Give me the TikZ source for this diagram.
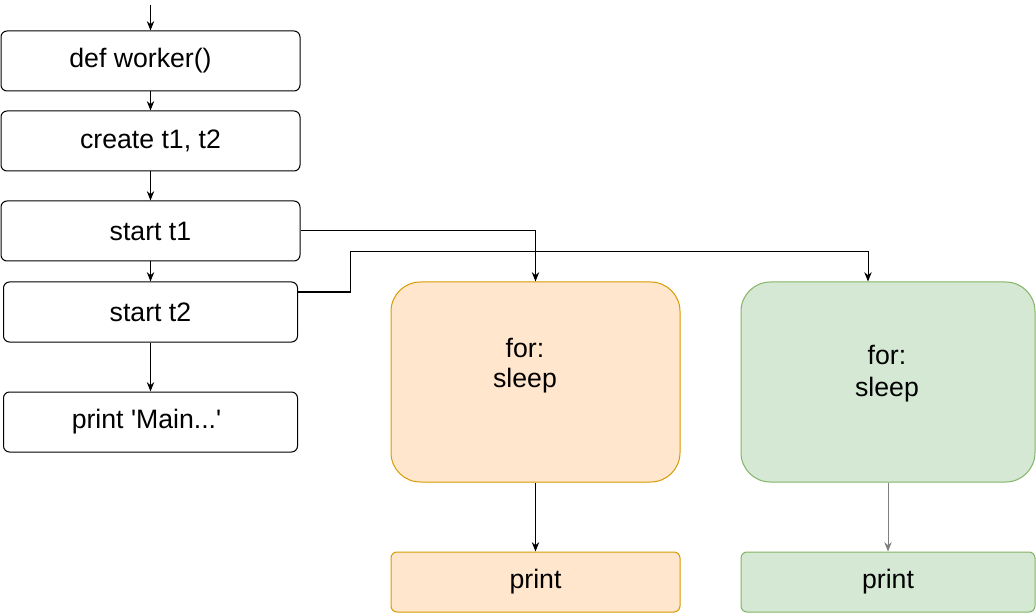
\documentclass[tikz,border=0pt]{standalone}
\usepackage{fontspec}
\setmainfont{Liberation Sans}
\usetikzlibrary{arrows.meta}

\definecolor{orfill}{HTML}{FFE6CC}
\definecolor{ordraw}{HTML}{D79B00}
\definecolor{grfill}{HTML}{D5E8D4}
\definecolor{grdraw}{HTML}{82B366}

\tikzset{
  stepbox/.style={draw, rounded corners=4.5pt, minimum width=224.25pt, minimum height=45pt, font=\fontsize{20}{23}\selectfont},
  loopbox/.style={draw, rounded corners=22pt, minimum height=150pt},
  flow/.style={-{Stealth[length=7pt,width=5.5pt]}, line width=0.75pt},
}

\begin{document}
\begin{tikzpicture}[x=0.75pt, y=-0.75pt, line width=0.75pt]
\useasboundingbox (0,0) rectangle (1036,613);

\coordinate (top) at (150.5,5);
\node[stepbox] (worker) at (150.5,61) {def worker()\hspace*{15pt}};
\node[stepbox] (create) at (150.5,141) {create t1, t2};
\node[stepbox] (startA) at (150.5,231) {start t1};
\node[stepbox, minimum width=220.5pt] (startB) at (150.5,312) {start t2};
\node[stepbox, minimum width=220.5pt] (mainprint) at (150.5,422) {print \textquotesingle Main...\textquotesingle\hspace*{6pt}};

\node[loopbox, draw=ordraw, fill=orfill, minimum width=216.75pt] (forA) at (535.5,382) {};
\node[align=center, font=\fontsize{20}{22.5}\selectfont] (forAtext) at (525,366) {for:\\sleep};
\node[loopbox, draw=grdraw, fill=grfill, minimum width=220.5pt] (forB) at (888,382) {};
\node[align=center, font=\fontsize{20}{24}\selectfont] (forBtext) at (887,374) {for:\\sleep};

\node[stepbox, draw=ordraw, fill=orfill, minimum width=216.75pt] (printA) at (535.5,582) {print};
\node[stepbox, draw=grdraw, fill=grfill, minimum width=220.5pt] (printB) at (888,582) {print};

\draw[flow] (top) -- (worker);
\draw[flow] (worker) -- (create);
\draw[flow] (create) -- (startA);
\draw[flow] (startA) -- (startB);
\draw[flow] (startB) -- (mainprint);

\draw[flow] (startA.east) -| (forA.north);
\draw[flow] ([yshift=15pt]startB.east) -- ++(52,0) -- ++(0,-40) -| ([xshift=-15pt]forB.north);

\draw[flow] (forA) -- (printA);
\draw[flow, gray] (forB) -- (printB);
\end{tikzpicture}
\end{document}
